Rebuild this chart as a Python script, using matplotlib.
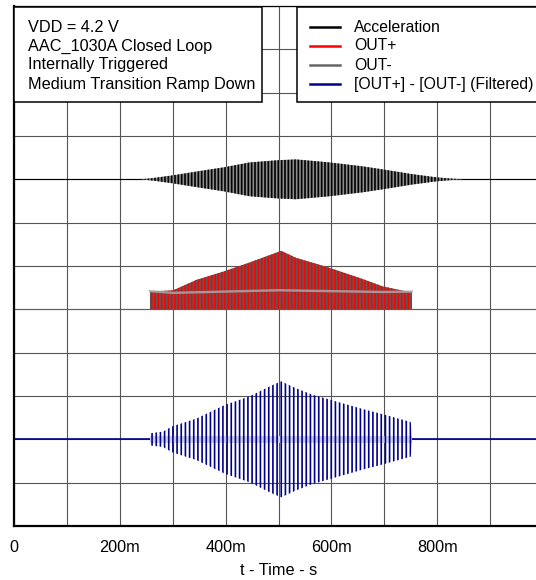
import matplotlib
matplotlib.use('Agg')
import matplotlib.pyplot as plt
from matplotlib.patches import Rectangle
from matplotlib.lines import Line2D
from matplotlib.ticker import MultipleLocator, FixedLocator, FuncFormatter

plt.rcParams['font.family'] = ['Liberation Sans', 'DejaVu Sans']
plt.rcParams['hatch.linewidth'] = 1.2

W, H = 536, 580
FS = 11.7
FS_LEG = 11.3

# burst envelopes (time in s, amplitude in screen divisions)
accel_t = [0.240, 0.263, 0.299, 0.345, 0.398, 0.445, 0.497, 0.533, 0.597,
           0.659, 0.697, 0.753, 0.796, 0.823, 0.850]
accel_amp = [0.0, 0.03, 0.09, 0.18, 0.28, 0.39, 0.44, 0.46, 0.39,
             0.30, 0.23, 0.12, 0.05, 0.02, 0.0]

outp_t = [0.257, 0.257, 0.301, 0.345, 0.398, 0.445, 0.483, 0.505, 0.533,
          0.596, 0.659, 0.697, 0.747, 0.752, 0.752]
outp_amp = [0.0, 0.41, 0.44, 0.68, 0.88, 1.08, 1.25, 1.35, 1.19,
            0.96, 0.70, 0.53, 0.40, 0.40, 0.0]

outm_t = [0.257, 0.300, 0.400, 0.500, 0.600, 0.700, 0.752]
outm_lvl = [0.42, 0.38, 0.41, 0.44, 0.42, 0.40, 0.41]

filt_t = [0.257, 0.257, 0.282, 0.299, 0.345, 0.398, 0.445, 0.483, 0.505,
          0.533, 0.562, 0.596, 0.659, 0.697, 0.750, 0.753]
filt_amp = [0.0, 0.14, 0.18, 0.30, 0.48, 0.79, 0.99, 1.22, 1.34,
            1.18, 1.04, 0.92, 0.70, 0.58, 0.40, 0.0]

# trace offsets in divisions
accel_base, out_base, filt_base = 8, 5, 2

box_lines = ['VDD = 4.2 V', 'AAC_1030A Closed Loop',
             'Internally Triggered', 'Medium Transition Ramp Down']
legend_labels = ['Acceleration', 'OUT+', 'OUT-', '[OUT+] - [OUT-] (Filtered)']
legend_colors = ['black', '#ff0000', '#666666', '#00008b']
xtick_vals = [0.0, 0.2, 0.4, 0.6, 0.8]


def px(x, y):
    return x / W, 1 - y / H


fig = plt.figure(figsize=(W / 100, H / 100), dpi=100)
ax = fig.add_axes([14 / W, 54 / H, (543 - 14) / W, 520 / H])
ax.set_xlim(0, 1.0)
ax.set_ylim(0, 12)

ax.xaxis.set_major_locator(FixedLocator(xtick_vals))
ax.xaxis.set_minor_locator(MultipleLocator(0.1))
ax.xaxis.set_major_formatter(FuncFormatter(lambda v, _: '0' if v == 0 else f'{v * 1000:.0f}m'))
ax.yaxis.set_major_locator(MultipleLocator(1))
ax.set_yticklabels([])
ax.grid(True, which='both', color='#555555', linewidth=0.8)
ax.tick_params(which='both', length=0, labelsize=FS, pad=10)
ax.set_xlabel('t - Time - s', fontsize=FS, labelpad=6)

for side in ('left', 'bottom'):
    ax.spines[side].set_linewidth(1.6)
ax.spines['top'].set_linewidth(0.9)
ax.spines['right'].set_visible(False)

# acceleration
ax.axhline(accel_base, color='black', linewidth=0.8)
ax.fill_between(accel_t, [accel_base - a for a in accel_amp], [accel_base + a for a in accel_amp],
                facecolor='#8c8c8c', edgecolor='black', hatch='|||||', linewidth=0, zorder=3)

# OUT+ / OUT-
ax.axhline(out_base, color='#606060', linewidth=0.8)
ax.fill_between(outp_t, out_base, [out_base + a for a in outp_amp],
                facecolor='#5a5a5a', edgecolor='#ff0000', hatch='|||||', linewidth=0, zorder=3)
ax.plot(outm_t, [out_base + v for v in outm_lvl], color='#a8a8a8', linewidth=1.7,
        alpha=0.85, zorder=4)

# filtered differential output
ax.axhline(filt_base, color='#00008b', linewidth=1.2)
ax.fill_between(filt_t, filt_base - 0.08, filt_base + 0.08, color='#d0d0ec', linewidth=0, zorder=3)
ax.fill_between(filt_t, [filt_base - a for a in filt_amp], [filt_base + a for a in filt_amp],
                facecolor='none', edgecolor='#00008b', hatch='||||', linewidth=0, zorder=3)

# condition box
x0, y0 = px(14, 102)
fig.add_artist(Rectangle((x0, y0), (262 - 14) / W, 95 / H, transform=fig.transFigure,
                         facecolor='white', edgecolor='black', linewidth=1.1, zorder=5))
for i, txt in enumerate(box_lines):
    fig.text(*px(28, 27 + i * 19), txt, fontsize=FS, va='center', ha='left', zorder=6)

# legend box
x0, y0 = px(297, 102)
fig.add_artist(Rectangle((x0, y0), 300 / W, 95 / H, transform=fig.transFigure,
                         facecolor='white', edgecolor='black', linewidth=1.1, zorder=5))
for i, (lab, col) in enumerate(zip(legend_labels, legend_colors)):
    yy = 27 + i * 19
    xa, ya = px(310, yy)
    xb, _ = px(340, yy)
    fig.add_artist(Line2D([xa, xb], [ya, ya], transform=fig.transFigure,
                          color=col, linewidth=1.8, zorder=6))
    fig.text(*px(354, yy), lab, fontsize=FS_LEG, va='center', ha='left', zorder=6)

fig.savefig('out.png', dpi=100)
